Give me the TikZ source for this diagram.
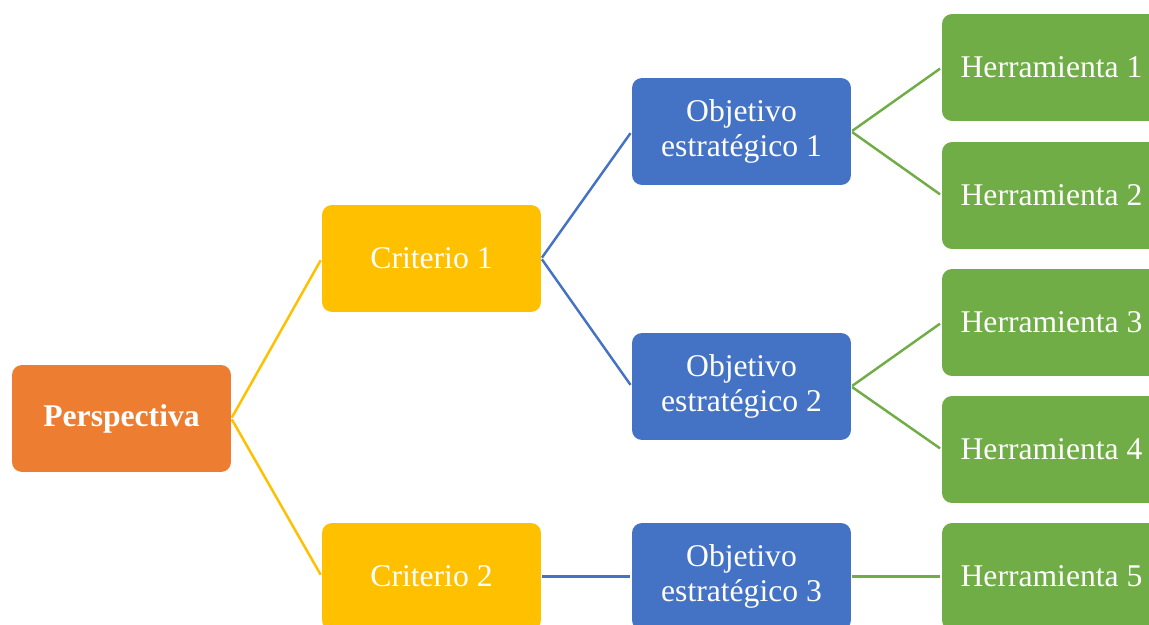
\documentclass[tikz,border=0pt]{standalone}
\usepackage{fontspec}
\setmainfont{Liberation Serif}
\definecolor{bscorange}{RGB}{237,125,49}
\definecolor{bscyellow}{RGB}{255,192,0}
\definecolor{bscblue}{RGB}{68,114,196}
\definecolor{bscgreen}{RGB}{112,173,71}
\begin{document}
\begin{tikzpicture}[x=0.02cm,y=-0.02cm,
  box/.style={rounded corners=0.2cm, minimum width=4.38cm, minimum height=2.14cm,
    inner sep=0pt, align=center, text=white, font=\fontsize{18}{19.5}\selectfont},
  link/.style={line width=1.4pt, shorten <=0.02cm, shorten >=0.04cm}]
\useasboundingbox (0,0) rectangle (1149,625);
\clip (0,0) rectangle (1149,625);
% Perspectiva
\node[box, fill=bscorange, font=\fontsize{18}{19.5}\selectfont\bfseries] (persp) at (121.5,418.5) {Perspectiva};
% Criterios
\node[box, fill=bscyellow] (crit1) at (431.5,258.5) {Criterio 1};
\node[box, fill=bscyellow] (crit2) at (431.5,576.5) {Criterio 2};
% Objetivos
\node[box, fill=bscblue] (obj1) at (741.5,131.5) {Objetivo\\estratégico 1};
\node[box, fill=bscblue] (obj2) at (741.5,386.5) {Objetivo\\estratégico 2};
\node[box, fill=bscblue] (obj3) at (741.5,576.5) {Objetivo\\estratégico 3};
% Herramientas
\node[box, fill=bscgreen] (herr1) at (1051.5,67.5) {Herramienta 1};
\node[box, fill=bscgreen] (herr2) at (1051.5,195.5) {Herramienta 2};
\node[box, fill=bscgreen] (herr3) at (1051.5,322.5) {Herramienta 3};
\node[box, fill=bscgreen] (herr4) at (1051.5,449.5) {Herramienta 4};
\node[box, fill=bscgreen] (herr5) at (1051.5,576.5) {Herramienta 5};
% Links
\draw[link, bscyellow] (persp.east) -- (crit1.west);
\draw[link, bscyellow] (persp.east) -- (crit2.west);
\draw[link, bscblue] (crit1.east) -- (obj1.west);
\draw[link, bscblue] (crit1.east) -- (obj2.west);
\draw[link, bscblue] (crit2.east) -- (obj3.west);
\draw[link, bscgreen] (obj1.east) -- (herr1.west);
\draw[link, bscgreen] (obj1.east) -- (herr2.west);
\draw[link, bscgreen] (obj2.east) -- (herr3.west);
\draw[link, bscgreen] (obj2.east) -- (herr4.west);
\draw[link, bscgreen] (obj3.east) -- (herr5.west);
\end{tikzpicture}
\end{document}
